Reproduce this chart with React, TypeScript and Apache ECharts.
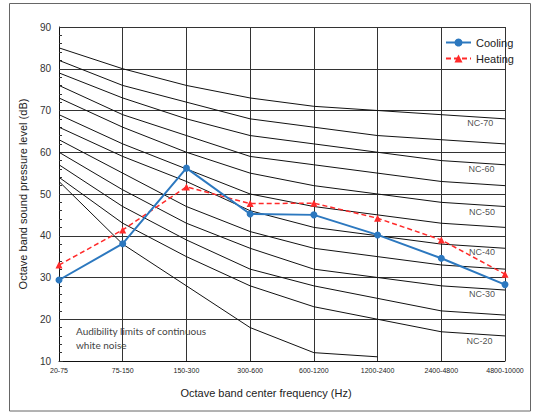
import React, { useEffect, useRef } from "react";
import * as echarts from "echarts";

const categories = ["20-75", "75-150", "150-300", "300-600", "600-1200", "1200-2400", "2400-4800", "4800-10000"];

const cooling = [29.4, 38.1, 56.2, 45.2, 45.0, 40.2, 34.6, 28.3];
const heating = [33.0, 41.4, 51.7, 47.7, 47.8, 44.2, 39.0, 30.8];

const ncCurves: (number | null)[][] = [
  [85, 80, 76, 73, 71, 70, 69, 68],
  [82, 76, 72, 68, 66, 64, 63, 62],
  [79, 73, 68, 64, 62, 60, 58, 57],
  [76, 69, 64, 59, 57, 55, 53, 52],
  [73, 66, 60, 55, 52, 50, 48, 47],
  [69, 62, 56, 50, 47, 45, 43, 42],
  [66, 59, 53, 46, 42, 40, 38, 37],
  [63, 55, 47, 41, 37, 35, 33, 32],
  [60, 51, 43, 37, 32, 30, 28, 27],
  [57, 47, 39, 32, 28, 25, 22, 21],
  [54, 43, 35, 28, 23, 20, 17, 16],
  [53, 38, 28, 18, 12, 11, null, null],
];

const ncLabels = ["NC-70", "NC-60", "NC-50", "NC-40", "NC-30", "NC-20"];
const ncLabelX = [6.61, 6.63, 6.64, 6.64, 6.64, 6.6];
const ncLabelY = [67.1, 56.1, 45.8, 36.0, 26.0, 14.7];

const yTitle = "Octave band sound pressure level (dB)";
const xTitle = "Octave band center frequency (Hz)";
const noteLines = ["Audibility limits of continuous", "white noise"];

export default function App() {
  const ref = useRef<HTMLDivElement>(null);
  useEffect(() => {
    if (!ref.current) return;
    const chart = echarts.init(ref.current, null, { renderer: "svg" });
    const font = "Liberation Sans";
    const ncSeries = ncCurves.map((d, i) => ({
      type: "line",
      name: "nc" + i,
      data: d,
      symbol: "none",
      silent: true,
      lineStyle: { color: "#111", width: 1 },
      z: 2,
    }));
    chart.setOption({
      animation: false,
      textStyle: { fontFamily: font },
      grid: { left: 59, top: 27, right: 32, bottom: 53 },
      legend: {
        data: ["Cooling", "Heating"],
        orient: "vertical",
        left: 440,
        top: 32,
        itemWidth: 25,
        itemHeight: 10,
        itemGap: 5,
        textStyle: { fontSize: 11, color: "#222", fontFamily: font },
      },
      xAxis: [
        {
          type: "category",
          data: categories,
          boundaryGap: false,
          axisLine: { lineStyle: { color: "#111", width: 1 } },
          axisTick: { show: false },
          axisLabel: { fontSize: 7, color: "#222", margin: 6, fontFamily: font, interval: 0 },
          splitLine: { show: true, lineStyle: { color: "#333", width: 1 } },
        },
        { type: "value", min: 0, max: 7, show: false },
      ],
      yAxis: {
        type: "value",
        min: 10,
        max: 90,
        interval: 10,
        name: yTitle,
        nameLocation: "middle",
        nameGap: 30,
        nameTextStyle: { fontSize: 11, color: "#222", fontFamily: font },
        axisLine: { show: true, lineStyle: { color: "#111", width: 1 } },
        axisTick: { show: true, inside: true, length: 4, lineStyle: { color: "#333" } },
        minorTick: { show: true, splitNumber: 5, length: 3, lineStyle: { color: "#333" } },
        axisLabel: { fontSize: 10, color: "#333", margin: 8, fontFamily: font },
        splitLine: { show: true, lineStyle: { color: "#333", width: 1 } },
      },
      graphic: [
        {
          type: "rect",
          shape: { x: 9.5, y: 3.5, width: 521, height: 407.5 },
          style: { fill: "none", stroke: "#666", lineWidth: 1 },
          silent: true,
        },
        {
          type: "text",
          x: 266,
          y: 393,
          style: { text: xTitle, fontSize: 11, fill: "#222", fontFamily: font, align: "center", verticalAlign: "middle" },
        },
        {
          type: "text",
          x: 76,
          y: 331,
          style: { text: noteLines[0], fontSize: 10, fill: "#444", fontFamily: "Lato", verticalAlign: "middle" },
        },
        {
          type: "text",
          x: 76,
          y: 344.5,
          style: { text: noteLines[1], fontSize: 10, fill: "#444", fontFamily: "Lato", verticalAlign: "middle" },
        },
      ],
      series: [
        ...ncSeries,
        {
          type: "scatter",
          name: "nclabels",
          xAxisIndex: 1,
          symbolSize: 0,
          silent: true,
          data: ncLabels.map((n, i) => ({ name: n, value: [ncLabelX[i], ncLabelY[i]] })),
          label: {
            show: true,
            position: "inside",
            formatter: "{b}",
            fontSize: 9,
            color: "#222",
            fontFamily: font,
          },
          z: 3,
        },
        {
          type: "line",
          name: "Heating",
          data: heating,
          symbol: "triangle",
          symbolSize: 7,
          lineStyle: { color: "#ff2a2a", width: 1.5, type: [5, 3] },
          itemStyle: { color: "#ff2a2a" },
          z: 5,
        },
        {
          type: "line",
          name: "Cooling",
          data: cooling,
          symbol: "circle",
          symbolSize: 7,
          lineStyle: { color: "#2c78bf", width: 2 },
          itemStyle: { color: "#2c78bf" },
          z: 6,
        },
      ],
    });
    return () => chart.dispose();
  }, []);
  return <div ref={ref} style={{ width: 537, height: 414, position: "absolute", left: 0, top: 0 }} />;
}
